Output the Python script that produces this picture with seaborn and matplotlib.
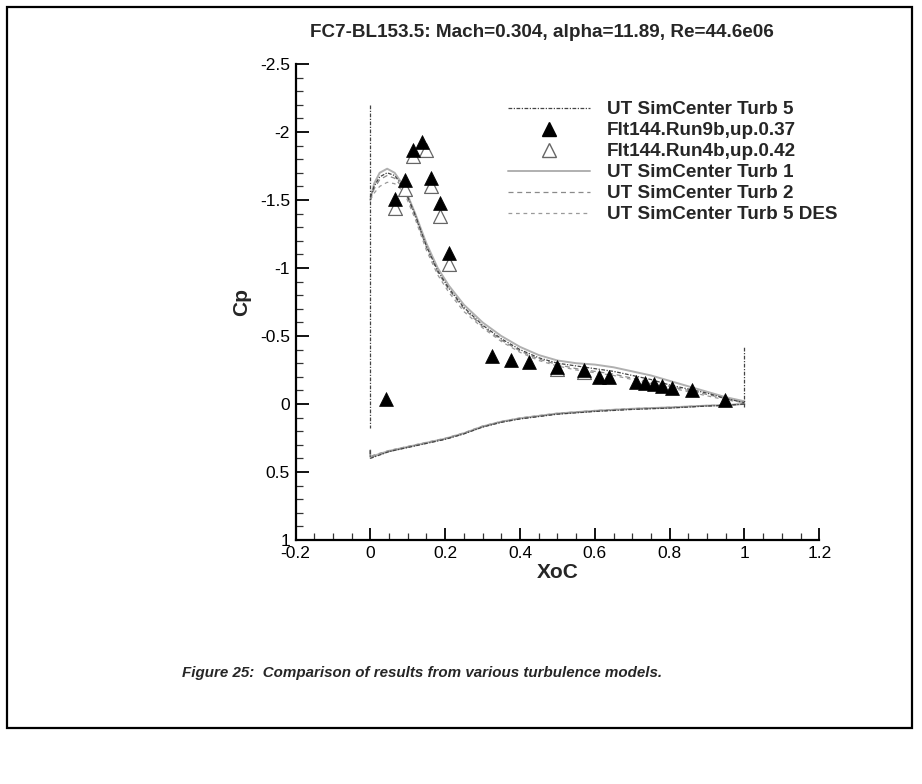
import matplotlib
matplotlib.use("Agg")
import matplotlib.pyplot as plt
import seaborn as sns
import numpy as np
from matplotlib.lines import Line2D
from matplotlib.patches import Rectangle

sns.set_theme(style="white")
plt.rcParams['font.family'] = ['Liberation Sans', 'DejaVu Sans']

title = "FC7-BL153.5: Mach=0.304, alpha=11.89, Re=44.6e06"
caption = "Figure 25:  Comparison of results from various turbulence models."
x_label = "XoC"
y_label = "Cp"

xtick_vals = [-0.2, 0, 0.2, 0.4, 0.6, 0.8, 1.0, 1.2]
xtick_labels = ["-0.2", "0", "0.2", "0.4", "0.6", "0.8", "1", "1.2"]
ytick_vals = [-2.5, -2, -1.5, -1, -0.5, 0, 0.5, 1]
ytick_labels = ["-2.5", "-2", "-1.5", "-1", "-0.5", "0", "0.5", "1"]

# upper surface stations (x/c)
x_upper = [0.0, 0.01, 0.025, 0.045, 0.065, 0.09, 0.12, 0.15, 0.18, 0.21, 0.25,
           0.30, 0.35, 0.40, 0.45, 0.50, 0.55, 0.60, 0.65, 0.70, 0.75, 0.80,
           0.85, 0.90, 0.95, 1.0]
cp_up_turb5 = [-1.52, -1.60, -1.67, -1.70, -1.68, -1.59, -1.39, -1.16, -0.98, -0.85, -0.71,
               -0.58, -0.48, -0.40, -0.34, -0.30, -0.28, -0.26, -0.24, -0.21, -0.18, -0.14,
               -0.11, -0.08, -0.04, -0.01]
cp_up_turb1 = [-1.50, -1.62, -1.70, -1.73, -1.70, -1.60, -1.40, -1.18, -1.00, -0.87, -0.73,
               -0.60, -0.50, -0.42, -0.36, -0.32, -0.30, -0.29, -0.27, -0.24, -0.21, -0.17,
               -0.13, -0.09, -0.05, -0.02]
cp_up_turb2 = [-1.50, -1.58, -1.65, -1.68, -1.66, -1.58, -1.38, -1.15, -0.97, -0.84, -0.70,
               -0.57, -0.47, -0.39, -0.33, -0.29, -0.26, -0.24, -0.22, -0.19, -0.16, -0.13,
               -0.10, -0.07, -0.04, -0.01]
cp_up_des = [-1.50, -1.55, -1.60, -1.63, -1.62, -1.56, -1.36, -1.13, -0.95, -0.82, -0.68,
             -0.56, -0.46, -0.38, -0.32, -0.28, -0.25, -0.23, -0.21, -0.18, -0.15, -0.12,
             -0.09, -0.06, -0.03, -0.01]

# lower surface stations
x_lower = [0.0, 0.0, 0.01, 0.05, 0.10, 0.15, 0.20, 0.25, 0.30, 0.35, 0.40, 0.50, 0.60,
           0.70, 0.80, 0.90, 0.95, 1.0]
cp_lo_turb5 = [0.34, 0.40, 0.39, 0.35, 0.32, 0.29, 0.26, 0.22, 0.17, 0.135, 0.11, 0.075, 0.055,
               0.04, 0.03, 0.015, 0.01, 0.0]
cp_lo_turb1 = [0.34, 0.39, 0.38, 0.345, 0.315, 0.285, 0.255, 0.215, 0.165, 0.13, 0.105, 0.07, 0.05,
               0.035, 0.025, 0.012, 0.008, 0.0]
cp_lo_turb2 = [0.34, 0.395, 0.385, 0.35, 0.318, 0.288, 0.258, 0.218, 0.168, 0.133, 0.108, 0.073, 0.053,
               0.038, 0.028, 0.014, 0.009, 0.0]
cp_lo_des = [0.34, 0.385, 0.375, 0.342, 0.312, 0.282, 0.252, 0.212, 0.162, 0.128, 0.103, 0.068, 0.048,
             0.034, 0.024, 0.011, 0.007, 0.0]

# spurious vertical segments in Turb 5 data
turb5_le_x = [0.0, 0.0]
turb5_le_cp = [-2.2, 0.18]
turb5_te_x = [1.0, 1.0]
turb5_te_cp = [0.02, -0.43]

# experiment
run9b_x = [0.041, 0.067, 0.092, 0.114, 0.139, 0.163, 0.187, 0.211, 0.325, 0.376, 0.425,
           0.50, 0.571, 0.611, 0.638, 0.709, 0.734, 0.758, 0.780, 0.807, 0.859, 0.949]
run9b_cp = [-0.04, -1.51, -1.645, -1.865, -1.93, -1.665, -1.48, -1.11, -0.35, -0.32, -0.31,
            -0.275, -0.25, -0.20, -0.20, -0.165, -0.155, -0.145, -0.13, -0.115, -0.10, -0.027]
run4b_x = [0.067, 0.092, 0.114, 0.149, 0.163, 0.187, 0.211, 0.50, 0.571]
run4b_cp = [-1.44, -1.58, -1.82, -1.865, -1.60, -1.38, -1.03, -0.255, -0.235]

W, H = 922, 784
fig = plt.figure(figsize=(W / 100, H / 100), dpi=100)
ax = fig.add_axes([295.5 / W, (H - 540) / H, (819.3 - 295.5) / W, (540 - 64) / H])

st_t5 = dict(color="#444444", lw=0.9, linestyle=(0, (3, 1.2, 1, 1.2)))
st_t1 = dict(color="#b0b0b0", lw=1.4, linestyle="-")
st_t2 = dict(color="#8a8a8a", lw=0.9, linestyle=(0, (4, 3)))
st_des = dict(color="#9a9a9a", lw=0.9, linestyle=(0, (3, 3)))

for xs, ys, st in [
    (x_upper, cp_up_turb1, st_t1), (x_lower, cp_lo_turb1, st_t1),
    (x_upper, cp_up_turb2, st_t2), (x_lower, cp_lo_turb2, st_t2),
    (x_upper, cp_up_des, st_des), (x_lower, cp_lo_des, st_des),
    (x_upper, cp_up_turb5, st_t5), (x_lower, cp_lo_turb5, st_t5),
    (turb5_le_x, turb5_le_cp, st_t5), (turb5_te_x, turb5_te_cp, st_t5),
]:
    sns.lineplot(x=xs, y=ys, sort=False, estimator=None, ax=ax, **st)

sns.scatterplot(x=run4b_x, y=run4b_cp, ax=ax, marker="^", s=100, facecolor="white",
                edgecolor="#666666", linewidth=0.9, zorder=3)
sns.scatterplot(x=run9b_x, y=run9b_cp, ax=ax, marker="^", s=100, color="black",
                edgecolor="black", linewidth=0.5, zorder=4)

ax.set_xlim(-0.2, 1.2)
ax.set_ylim(1, -2.5)
ax.set_xticks(xtick_vals)
ax.set_xticklabels(xtick_labels)
ax.set_yticks(ytick_vals)
ax.set_yticklabels(ytick_labels)
ax.set_xticks(np.arange(-0.2, 1.2001, 0.05), minor=True)
ax.set_yticks(np.arange(-2.5, 1.0001, 0.1), minor=True)
ax.tick_params(which="major", direction="in", length=9, width=1.3, labelsize=12.5,
               colors="black", pad=4, bottom=True, left=True)
ax.tick_params(which="minor", direction="in", length=5, width=0.9, colors="#333333",
               bottom=True, left=True)
for s in ["top", "right"]:
    ax.spines[s].set_visible(False)
for s in ["left", "bottom"]:
    ax.spines[s].set_color("black")
    ax.spines[s].set_linewidth(1.6)
ax.set_xlabel(x_label, fontsize=15, fontweight="bold", labelpad=2)
ax.set_ylabel(y_label, fontsize=15, fontweight="bold", labelpad=6)
ax.grid(False)

handles = [
    Line2D([], [], **st_t5),
    Line2D([], [], marker="^", color="black", linestyle="none", markersize=10),
    Line2D([], [], marker="^", markerfacecolor="white", markeredgecolor="#666666",
           linestyle="none", markersize=10),
    Line2D([], [], **st_t1),
    Line2D([], [], **st_t2),
    Line2D([], [], **st_des),
]
labels = ["UT SimCenter Turb 5", "Flt144.Run9b,up.0.37", "Flt144.Run4b,up.0.42",
          "UT SimCenter Turb 1", "UT SimCenter Turb 2", "UT SimCenter Turb 5 DES"]
fig.legend(handles, labels, loc="upper left", bbox_to_anchor=(508 / W, 1 - 101 / H),
           frameon=False, prop={"weight": "bold", "size": 13.6}, handlelength=4.34,
           handletextpad=0.88, labelspacing=0.2, borderpad=0, borderaxespad=0)

fig.text(541.5 / W, 1 - 32.7 / H, title, ha="center", va="center", fontsize=13.6,
         fontweight="bold")
fig.text(422.5 / W, 1 - 673 / H, caption, ha="center", va="center", fontsize=10.9,
         fontweight="bold", fontstyle="italic")

fig.patches.append(Rectangle((7 / W, 1 - 728 / H), (912 - 7) / W, (728 - 7) / H,
                             transform=fig.transFigure, fill=False, edgecolor="black",
                             linewidth=1.6))

fig.savefig("out.png", dpi=100)
